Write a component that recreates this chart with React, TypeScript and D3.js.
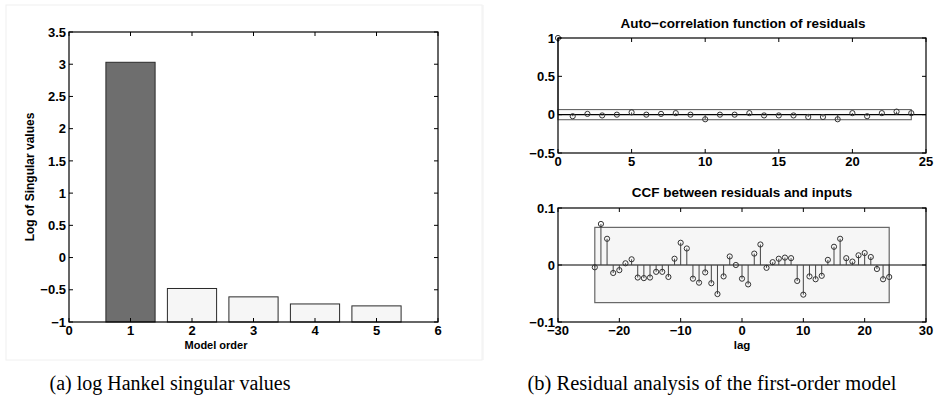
import React from "react";
import * as d3 from "d3";

const modelOrders = [1, 2, 3, 4, 5];
const logSingularValues = [3.03, -0.48, -0.61, -0.72, -0.75];
const leftYTicks = [-1, -0.5, 0, 0.5, 1, 1.5, 2, 2.5, 3, 3.5];
const leftXTicks = [0, 1, 2, 3, 4, 5, 6];

const acfLags = d3.range(0, 25);
const acfValues = [1, -0.02, 0.01, -0.01, 0.0, 0.03, 0.0, 0.01, 0.02, 0.0, -0.06, 0.0, 0.0, 0.02, -0.01, -0.01, -0.01, -0.03, -0.03, -0.06, 0.02, -0.02, 0.02, 0.04, 0.02];
const acfConf = 0.066;
const acfYTicks = [-0.5, 0, 0.5, 1];
const acfXTicks = [0, 5, 10, 15, 20, 25];

const ccfLags = d3.range(-24, 25);
const ccfValues = [
  -0.004, 0.072, 0.046, -0.014, -0.009, 0.003, 0.010, -0.022, -0.023, -0.022,
  -0.012, -0.012, -0.021, 0.011, 0.039, 0.029, -0.024, -0.031, -0.013, -0.032,
  -0.051, -0.020, 0.015, 0.0, -0.024, -0.034, 0.020, 0.036, -0.005, 0.005,
  0.011, 0.013, 0.012, -0.028, -0.052, -0.020, -0.025, -0.019, 0.009, 0.032,
  0.046, 0.012, 0.006, 0.017, 0.021, 0.014, -0.007, -0.025, -0.021,
];
const ccfConf = 0.066;
const ccfYTicks = [-0.1, 0, 0.1];
const ccfXTicks = [-30, -20, -10, 0, 10, 20, 30];

const FONT = "'Liberation Sans', Arial, Helvetica, sans-serif";
const SERIF = "'Liberation Serif', 'Times New Roman', serif";
const fmt = (v: number) => (v < 0 ? "\u2212" + String(-v) : String(v));

type AxesProps = {
  x: d3.ScaleLinear<number, number>;
  y: d3.ScaleLinear<number, number>;
  xTicks: number[];
  yTicks: number[];
  fontSize: number;
};

function Axes({ x, y, xTicks, yTicks, fontSize }: AxesProps) {
  const [x0, x1] = x.range();
  const [y0, y1] = y.range();
  const tl = 4;
  return (
    <g>
      <rect x={x0} y={y1} width={x1 - x0} height={y0 - y1} fill="none" stroke="#000" strokeWidth={1.2} />
      {xTicks.map((t) => (
        <g key={"x" + t}>
          <line x1={x(t)} x2={x(t)} y1={y0} y2={y0 - tl} stroke="#000" />
          <line x1={x(t)} x2={x(t)} y1={y1} y2={y1 + tl} stroke="#000" />
          <text x={x(t)} y={y0 + fontSize} textAnchor="middle" fontSize={fontSize} fontWeight="bold" fontFamily={FONT}>
            {fmt(t)}
          </text>
        </g>
      ))}
      {yTicks.map((t) => (
        <g key={"y" + t}>
          <line x1={x0} x2={x0 + tl} y1={y(t)} y2={y(t)} stroke="#000" />
          <line x1={x1} x2={x1 - tl} y1={y(t)} y2={y(t)} stroke="#000" />
          <text x={x0 - 3} y={y(t) + fontSize * 0.36} textAnchor="end" fontSize={fontSize} fontWeight="bold" fontFamily={FONT}>
            {fmt(t)}
          </text>
        </g>
      ))}
    </g>
  );
}

export default function App() {
  const lx = d3.scaleLinear().domain([0, 6]).range([69, 438]);
  const ly = d3.scaleLinear().domain([-1, 3.5]).range([322, 32]);
  const bw = lx(0.8) - lx(0);

  const ax = d3.scaleLinear().domain([0, 25]).range([558, 926]);
  const ay = d3.scaleLinear().domain([-0.5, 1]).range([153, 38]);

  const cx = d3.scaleLinear().domain([-30, 30]).range([558, 926]);
  const cy = d3.scaleLinear().domain([-0.1, 0.1]).range([322, 208]);

  const r = 2.6;
  const tickFs = 13;

  return (
    <svg width={947} height={407} style={{ position: "absolute", left: 0, top: 0, background: "#fff" }}>
      <rect x={6} y={5} width={476} height={355} fill="none" stroke="#f0f0f0" strokeWidth={1} />
      <line x1={483} x2={483} y1={5} y2={360} stroke="#f0f0f0" strokeWidth={1} />

      {modelOrders.map((m, i) => (
        <rect
          key={m}
          x={lx(m) - bw / 2}
          y={ly(logSingularValues[i])}
          width={bw}
          height={ly(-1) - ly(logSingularValues[i])}
          fill={i === 0 ? "#6e6e6e" : "#f6f6f6"}
          stroke="#2a2a2a"
          strokeWidth={1}
        />
      ))}
      <Axes x={lx} y={ly} xTicks={leftXTicks} yTicks={leftYTicks} fontSize={tickFs} />
      <text x={216} y={349} textAnchor="middle" fontSize={11} fontWeight="bold" fontFamily={FONT}>
        Model order
      </text>
      <text
        transform={`translate(34,${ly(1.25)}) rotate(-90)`}
        textAnchor="middle"
        fontSize={12}
        fontWeight="bold"
        fontFamily={FONT}
      >
        Log of Singular values
      </text>

      <rect
        x={ax(0)}
        y={ay(acfConf)}
        width={ax(24) - ax(0)}
        height={ay(-acfConf) - ay(acfConf)}
        fill="#fafafa"
        stroke="#555"
        strokeWidth={1}
      />
      <line x1={ax(0)} x2={ax(25)} y1={ay(0)} y2={ay(0)} stroke="#000" strokeWidth={1.2} />
      {acfLags.map((l, i) => (
        <g key={l}>
          <line x1={ax(l)} x2={ax(l)} y1={ay(0)} y2={ay(acfValues[i])} stroke="#444" />
          <circle cx={ax(l)} cy={ay(acfValues[i])} r={r} fill="none" stroke="#333" strokeWidth={1} />
        </g>
      ))}
      <Axes x={ax} y={ay} xTicks={acfXTicks} yTicks={acfYTicks} fontSize={tickFs} />
      <text x={743} y={28} textAnchor="middle" fontSize={13.5} fontWeight="bold" fontFamily={FONT}>
        Auto{"\u2212"}correlation function of residuals
      </text>

      <rect
        x={cx(-24)}
        y={cy(ccfConf)}
        width={cx(24) - cx(-24)}
        height={cy(-ccfConf) - cy(ccfConf)}
        fill="#f6f6f6"
        stroke="#666"
        strokeWidth={1.2}
      />
      <line x1={cx(-30)} x2={cx(30)} y1={cy(0)} y2={cy(0)} stroke="#000" strokeWidth={1.2} />
      {ccfLags.map((l, i) => (
        <g key={l}>
          <line x1={cx(l)} x2={cx(l)} y1={cy(0)} y2={cy(ccfValues[i])} stroke="#444" />
          <circle cx={cx(l)} cy={cy(ccfValues[i])} r={r} fill="none" stroke="#333" strokeWidth={1} />
        </g>
      ))}
      <Axes x={cx} y={cy} xTicks={ccfXTicks} yTicks={ccfYTicks} fontSize={tickFs} />
      <text x={742} y={197} textAnchor="middle" fontSize={13.5} fontWeight="bold" fontFamily={FONT}>
        CCF between residuals and inputs
      </text>
      <text x={742} y={349} textAnchor="middle" fontSize={11.5} fontWeight="bold" fontFamily={FONT}>
        lag
      </text>

      <text x={170} y={390} textAnchor="middle" fontSize={20} fontFamily={SERIF}>
        (a)  log Hankel singular values
      </text>
      <text x={712} y={390} textAnchor="middle" fontSize={20.5} fontFamily={SERIF}>
        (b)  Residual analysis of the first-order model
      </text>
    </svg>
  );
}
